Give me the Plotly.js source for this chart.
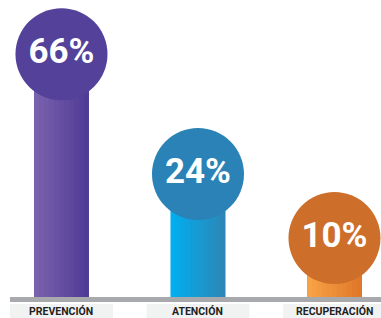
<!DOCTYPE html>
<html>
<head>
<meta charset="utf-8">
<script src="https://cdn.plot.ly/plotly-3.0.1.min.js"></script>
<style>html,body{margin:0;padding:0;background:#fff;}#chart{width:381px;height:318px;}</style>
</head>
<body>
<div id="chart"></div>
<script>
// ---- data ----
var categories = ["PREVENCIÓN", "ATENCIÓN", "RECUPERACIÓN"];
var percentValues = [66, 24, 10];
var barHeights = [66, 33.4, 16];   // drawn heights (infographic, not proportional)
var percentLabels = percentValues.map(function (v) { return v + "%"; });

// ---- styles ----
var circleColors = ["#53419a", "#2a82b6", "#cd6e2a"];
var gradLeft  = ["#7c63ae", "#00b0f0", "#f8a447"];
var gradRight = ["#4d3a95", "#2e85b6", "#df7628"];
var FONT = "Roboto, 'Liberation Sans', sans-serif";

function hexToRgb(h) { h = h.replace('#', ''); return [parseInt(h.substr(0,2),16), parseInt(h.substr(2,2),16), parseInt(h.substr(4,2),16)]; }
function mix(a, b, t) {
  var A = hexToRgb(a), B = hexToRgb(b);
  return 'rgb(' + [0,1,2].map(function (k) { return Math.round(A[k] + (B[k] - A[k]) * t); }).join(',') + ')';
}

var PX = 1 / 136.5;          // x units per pixel
var barWidth = 55 * PX;
var N = 11;                  // 5-px gradient slices
var traces = [];
for (var i = 0; i < N; i++) {
  var t = (i + 0.5) / N;
  traces.push({
    type: 'bar',
    x: categories,
    y: barHeights,
    width: (i < N - 1 ? 6 : 5) * PX,
    offset: -barWidth / 2 + i * 5 * PX,
    marker: { color: categories.map(function (c, j) { return mix(gradLeft[j], gradRight[j], t); }), line: { width: 0 } },
    hoverinfo: 'skip',
    showlegend: false
  });
}

traces.push({
  type: 'scatter',
  mode: 'markers+text',
  x: categories,
  y: barHeights,
  text: percentLabels,
  textposition: 'middle center',
  textfont: { family: FONT, size: 35, color: '#ffffff', weight: 'bold' },
  marker: { size: 92, color: circleColors, line: { width: 0 }, opacity: 1 },
  hoverinfo: 'skip',
  showlegend: false,
  cliponaxis: false
});

var shapes = [
  { type: 'rect', xref: 'paper', yref: 'paper', x0: 10 / 381, x1: 1, y0: 1 - 302 / 318, y1: 1 - 297 / 318,
    fillcolor: '#a7a9ac', line: { width: 0 }, layer: 'above' }
];
var annotations = [];
categories.forEach(function (c, j) {
  shapes.push({ type: 'rect', xref: 'x', yref: 'paper', x0: j - 0.377, x1: j + 0.377, y0: -0.02, y1: 1 - 304 / 318,
    fillcolor: '#f1f2f2', line: { width: 0 }, layer: 'below' });
  annotations.push({ x: c, xref: 'x', y: 1 - 311.5 / 318, yref: 'paper', text: c, showarrow: false,
    xanchor: 'center', yanchor: 'middle',
    font: { family: FONT, size: 10.5, color: '#231f20', weight: 'bold' } });
});

var layout = {
  width: 381, height: 318,
  margin: { l: 0, r: 0, t: 0, b: 0 },
  paper_bgcolor: '#ffffff', plot_bgcolor: 'rgba(0,0,0,0)',
  barmode: 'overlay',
  xaxis: { type: 'category', range: [-0.4505, 2.3407], visible: false, fixedrange: true },
  yaxis: { range: [-5.71, 80.71], visible: false, fixedrange: true },
  shapes: shapes,
  annotations: annotations,
  showlegend: false
};

Plotly.newPlot('chart', traces, layout, { displayModeBar: false, staticPlot: true });
</script>
</body>
</html>
